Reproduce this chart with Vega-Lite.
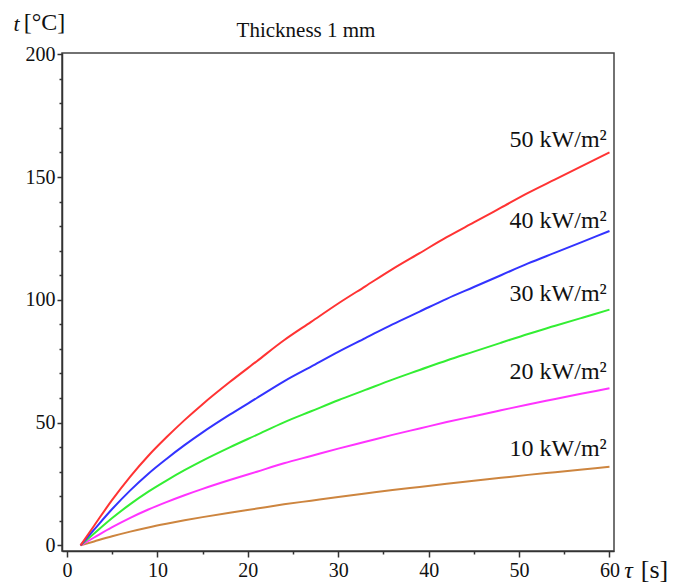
{
  "$schema": "https://vega.github.io/schema/vega-lite/v6.json",
  "width": 552,
  "height": 498,
  "autosize": "none",
  "padding": {"left": 62, "top": 53, "right": 74, "bottom": 34},
  "background": "white",
  "config": {
    "view": {"stroke": "#444", "strokeWidth": 1.5},
    "font": "Liberation Serif"
  },
  "title": {
    "text": "Thickness 1 mm",
    "font": "Liberation Serif",
    "fontSize": 21,
    "fontWeight": "normal",
    "color": "#111",
    "anchor": "middle",
    "dx": -32,
    "offset": -31
  },
  "datasets": {
    "curves": [
      {"tau": 1.5, "t": 0, "q": 10}, {"tau": 3, "t": 1.6, "q": 10}, {"tau": 5, "t": 3.7, "q": 10}, {"tau": 7, "t": 5.6, "q": 10}, {"tau": 9, "t": 7.3, "q": 10}, {"tau": 11, "t": 8.8, "q": 10}, {"tau": 13, "t": 10.2, "q": 10}, {"tau": 15, "t": 11.5, "q": 10}, {"tau": 18, "t": 13.3, "q": 10}, {"tau": 21, "t": 15.0, "q": 10}, {"tau": 24, "t": 16.7, "q": 10}, {"tau": 27, "t": 18.2, "q": 10}, {"tau": 30, "t": 19.7, "q": 10}, {"tau": 33, "t": 21.1, "q": 10}, {"tau": 36, "t": 22.5, "q": 10}, {"tau": 39, "t": 23.8, "q": 10}, {"tau": 42, "t": 25.1, "q": 10}, {"tau": 45, "t": 26.3, "q": 10}, {"tau": 48, "t": 27.5, "q": 10}, {"tau": 51, "t": 28.7, "q": 10}, {"tau": 54, "t": 29.8, "q": 10}, {"tau": 57, "t": 30.9, "q": 10}, {"tau": 60, "t": 32.0, "q": 10},
      {"tau": 1.5, "t": 0, "q": 20}, {"tau": 3, "t": 3.2, "q": 20}, {"tau": 5, "t": 7.4, "q": 20}, {"tau": 7, "t": 11.2, "q": 20}, {"tau": 9, "t": 14.6, "q": 20}, {"tau": 11, "t": 17.6, "q": 20}, {"tau": 13, "t": 20.4, "q": 20}, {"tau": 15, "t": 23.0, "q": 20}, {"tau": 18, "t": 26.6, "q": 20}, {"tau": 21, "t": 30.0, "q": 20}, {"tau": 24, "t": 33.4, "q": 20}, {"tau": 27, "t": 36.4, "q": 20}, {"tau": 30, "t": 39.4, "q": 20}, {"tau": 33, "t": 42.2, "q": 20}, {"tau": 36, "t": 45.0, "q": 20}, {"tau": 39, "t": 47.6, "q": 20}, {"tau": 42, "t": 50.2, "q": 20}, {"tau": 45, "t": 52.6, "q": 20}, {"tau": 48, "t": 55.0, "q": 20}, {"tau": 51, "t": 57.4, "q": 20}, {"tau": 54, "t": 59.6, "q": 20}, {"tau": 57, "t": 61.8, "q": 20}, {"tau": 60, "t": 64.0, "q": 20},
      {"tau": 1.5, "t": 0, "q": 30}, {"tau": 3, "t": 4.8, "q": 30}, {"tau": 5, "t": 11.1, "q": 30}, {"tau": 7, "t": 16.8, "q": 30}, {"tau": 9, "t": 21.9, "q": 30}, {"tau": 11, "t": 26.4, "q": 30}, {"tau": 13, "t": 30.6, "q": 30}, {"tau": 15, "t": 34.5, "q": 30}, {"tau": 18, "t": 39.9, "q": 30}, {"tau": 21, "t": 45.0, "q": 30}, {"tau": 24, "t": 50.1, "q": 30}, {"tau": 27, "t": 54.6, "q": 30}, {"tau": 30, "t": 59.1, "q": 30}, {"tau": 33, "t": 63.3, "q": 30}, {"tau": 36, "t": 67.5, "q": 30}, {"tau": 39, "t": 71.4, "q": 30}, {"tau": 42, "t": 75.3, "q": 30}, {"tau": 45, "t": 78.9, "q": 30}, {"tau": 48, "t": 82.5, "q": 30}, {"tau": 51, "t": 86.1, "q": 30}, {"tau": 54, "t": 89.4, "q": 30}, {"tau": 57, "t": 92.7, "q": 30}, {"tau": 60, "t": 96.0, "q": 30},
      {"tau": 1.5, "t": 0, "q": 40}, {"tau": 3, "t": 6.4, "q": 40}, {"tau": 5, "t": 14.8, "q": 40}, {"tau": 7, "t": 22.4, "q": 40}, {"tau": 9, "t": 29.2, "q": 40}, {"tau": 11, "t": 35.2, "q": 40}, {"tau": 13, "t": 40.8, "q": 40}, {"tau": 15, "t": 46.0, "q": 40}, {"tau": 18, "t": 53.2, "q": 40}, {"tau": 21, "t": 60.0, "q": 40}, {"tau": 24, "t": 66.8, "q": 40}, {"tau": 27, "t": 72.8, "q": 40}, {"tau": 30, "t": 78.8, "q": 40}, {"tau": 33, "t": 84.4, "q": 40}, {"tau": 36, "t": 90.0, "q": 40}, {"tau": 39, "t": 95.2, "q": 40}, {"tau": 42, "t": 100.4, "q": 40}, {"tau": 45, "t": 105.2, "q": 40}, {"tau": 48, "t": 110.0, "q": 40}, {"tau": 51, "t": 114.8, "q": 40}, {"tau": 54, "t": 119.2, "q": 40}, {"tau": 57, "t": 123.6, "q": 40}, {"tau": 60, "t": 128.0, "q": 40},
      {"tau": 1.5, "t": 0, "q": 50}, {"tau": 3, "t": 8.0, "q": 50}, {"tau": 5, "t": 18.5, "q": 50}, {"tau": 7, "t": 28.0, "q": 50}, {"tau": 9, "t": 36.5, "q": 50}, {"tau": 11, "t": 44.0, "q": 50}, {"tau": 13, "t": 51.0, "q": 50}, {"tau": 15, "t": 57.5, "q": 50}, {"tau": 18, "t": 66.5, "q": 50}, {"tau": 21, "t": 75.0, "q": 50}, {"tau": 24, "t": 83.5, "q": 50}, {"tau": 27, "t": 91.0, "q": 50}, {"tau": 30, "t": 98.5, "q": 50}, {"tau": 33, "t": 105.5, "q": 50}, {"tau": 36, "t": 112.5, "q": 50}, {"tau": 39, "t": 119.0, "q": 50}, {"tau": 42, "t": 125.5, "q": 50}, {"tau": 45, "t": 131.5, "q": 50}, {"tau": 48, "t": 137.5, "q": 50}, {"tau": 51, "t": 143.5, "q": 50}, {"tau": 54, "t": 149.0, "q": 50}, {"tau": 57, "t": 154.5, "q": 50}, {"tau": 60, "t": 160.0, "q": 50}
    ],
    "labels": [
      {"tau": 59.7, "t": 165, "label": "50 kW/m²"},
      {"tau": 59.7, "t": 132, "label": "40 kW/m²"},
      {"tau": 59.7, "t": 102.4, "label": "30 kW/m²"},
      {"tau": 59.7, "t": 70.6, "label": "20 kW/m²"},
      {"tau": 59.7, "t": 39.2, "label": "10 kW/m²"}
    ]
  },
  "resolve": {"axis": {"x": "independent", "y": "independent"}},
  "layer": [
    {
      "data": {"name": "curves"},
      "mark": {"type": "line", "interpolate": "monotone", "strokeWidth": 2, "clip": true},
      "encoding": {
        "x": {
          "field": "tau", "type": "quantitative",
          "scale": {"domain": [-0.55, 60.5], "nice": false, "zero": false},
          "axis": {
            "orient": "bottom", "values": [0, 10, 20, 30, 40, 50, 60], "grid": false,
            "domainColor": "#333", "domainWidth": 1.5, "tickColor": "#333", "tickWidth": 1.5, "tickSize": 6,
            "labelFont": "Liberation Serif", "labelFontSize": 20, "labelColor": "#111", "labelPadding": 3,
            "title": "τ", "titleFont": "Liberation Serif", "titleFontSize": 24, "titleFontStyle": "italic", "titleFontWeight": "normal",
            "titleColor": "#111", "titleX": 566, "titleY": 19, "titleAlign": "center", "titleBaseline": "middle", "titleAngle": 0
          }
        },
        "y": {
          "field": "t", "type": "quantitative",
          "scale": {"domain": [-2.3, 200.5], "nice": false, "zero": false},
          "axis": {
            "orient": "left", "values": [0, 50, 100, 150, 200], "grid": false,
            "domainColor": "#333", "domainWidth": 1.5, "tickColor": "#333", "tickWidth": 1.5, "tickSize": 5,
            "labelFont": "Liberation Serif", "labelFontSize": 20, "labelColor": "#111", "labelPadding": 2,
            "title": "t", "titleFont": "Liberation Serif", "titleFontSize": 22, "titleFontStyle": "italic", "titleFontWeight": "normal",
            "titleColor": "#111", "titleX": -46, "titleY": -30, "titleAlign": "center", "titleBaseline": "middle", "titleAngle": 0
          }
        },
        "color": {
          "field": "q", "type": "nominal",
          "scale": {"domain": [10, 20, 30, 40, 50], "range": ["#cd853f", "#ff33ff", "#33ee33", "#3333ff", "#ff3333"]},
          "legend": null
        }
      }
    },
    {
      "data": {"name": "curves"},
      "mark": {"type": "point", "opacity": 0},
      "encoding": {
        "x": {
          "field": "tau", "type": "quantitative",
          "axis": {
            "orient": "bottom", "values": [5, 15, 25, 35, 45, 55], "grid": false, "labels": false, "domain": false,
            "tickColor": "#333", "tickWidth": 1.5, "tickSize": 3,
            "title": "[s]", "titleFont": "Liberation Serif", "titleFontSize": 26, "titleFontWeight": "normal",
            "titleColor": "#111", "titleX": 592, "titleY": 18, "titleAlign": "center", "titleBaseline": "middle", "titleAngle": 0
          }
        },
        "y": {
          "field": "t", "type": "quantitative",
          "axis": {
            "orient": "left", "values": [10, 20, 30, 40, 60, 70, 80, 90, 110, 120, 130, 140, 160, 170, 180, 190], "grid": false, "labels": false, "domain": false,
            "tickColor": "#333", "tickWidth": 1.5, "tickSize": 3,
            "title": "[°C]", "titleFont": "Liberation Serif", "titleFontSize": 24, "titleFontWeight": "normal",
            "titleColor": "#111", "titleX": -18, "titleY": -31, "titleAlign": "center", "titleBaseline": "middle", "titleAngle": 0
          }
        }
      }
    },
    {
      "data": {"name": "labels"},
      "mark": {"type": "text", "align": "right", "baseline": "middle", "font": "Liberation Serif", "fontSize": 24, "color": "#111"},
      "encoding": {
        "x": {"field": "tau", "type": "quantitative", "axis": null},
        "y": {"field": "t", "type": "quantitative", "axis": null},
        "text": {"field": "label"}
      }
    }
  ]
}
